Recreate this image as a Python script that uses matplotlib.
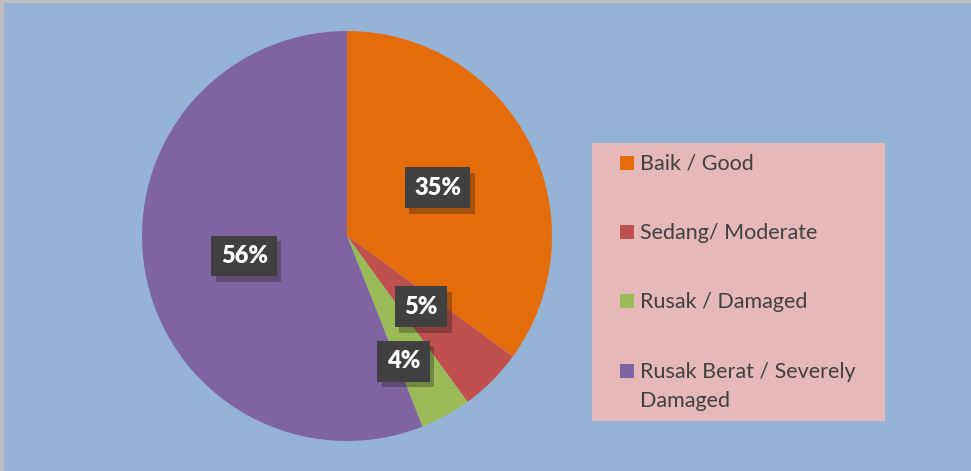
import matplotlib
matplotlib.use("Agg")
import matplotlib.pyplot as plt
from matplotlib.patches import Rectangle
from matplotlib.lines import Line2D
import matplotlib.patheffects as pe
import numpy as np

categories = ["Baik / Good", "Sedang/ Moderate", "Rusak / Damaged", "Rusak Berat / Severely\nDamaged"]
values = [35, 5, 4, 56]
labels = ["35%", "5%", "4%", "56%"]
colors = ["#E46C0A", "#C0504D", "#9BBB59", "#8064A2"]

BG = "#95B3D7"
fig = plt.figure(figsize=(9.71, 4.71), dpi=100, facecolor=BG)
plt.rcParams['font.family'] = ['Lato', 'DejaVu Sans']

W, H = 971, 471
cx, cy, r = 347, 236, 205
ax = fig.add_axes([(cx - r) / W, (H - cy - r) / H, 2 * r / W, 2 * r / H])
ax.set_facecolor(BG)
wedges, _ = ax.pie(values, colors=colors, startangle=90, counterclock=False,
                   wedgeprops=dict(linewidth=0))
ax.set_aspect('equal')
ax.set_xlim(-1, 1)
ax.set_ylim(-1, 1)
ax.axis('off')

# label placement (radius fraction, angle deg) per wedge
label_pos = [(0.50, 28), (0.50, -43.5), (0.67, -65.7), (0.51, 191)]
for lab, (rf, ang) in zip(labels, label_pos):
    x = rf * np.cos(np.radians(ang))
    y = rf * np.sin(np.radians(ang))
    t = ax.text(x, y, lab, ha='center', va='center', fontsize=17, fontweight='heavy',
                color='white',
                bbox=dict(boxstyle='square,pad=0.4', fc='#404040', ec='none'))
    t.get_bbox_patch().set_path_effects([pe.SimplePatchShadow(offset=(3, -4), alpha=0.3),
                                         pe.Normal()])

# legend box
lx0, lx1, ly0, ly1 = 592, 885, 143, 421
fig.patches.append(Rectangle((lx0 / W, 1 - ly1 / H), (lx1 - lx0) / W, (ly1 - ly0) / H,
                             transform=fig.transFigure, fc="#E6B9B8", ec='none'))
rows_y = [163, 232, 301, 371]
for cat, col, ry in zip(categories, colors, rows_y):
    fig.patches.append(Rectangle((620 / W, 1 - (ry + 7) / H), 14 / W, 14 / H,
                                 transform=fig.transFigure, fc=col, ec='none'))
    fig.text(640 / W, 1 - (ry + 7) / H, cat.split("\n")[0], ha='left', va='baseline',
             fontsize=15.5, color='#404040')
    if "\n" in cat:
        fig.text(640 / W, 1 - (ry + 36) / H, cat.split("\n")[1], ha='left', va='baseline',
                 fontsize=15.5, color='#404040')

# border top/left
fig.lines.append(Line2D([0.002, 0.002], [0, 1], transform=fig.transFigure, color='#BFBFBF', lw=3))
fig.lines.append(Line2D([0, 1], [0.997, 0.997], transform=fig.transFigure, color='#BFBFBF', lw=3))

fig.savefig("out.png", dpi=100, facecolor=BG)
